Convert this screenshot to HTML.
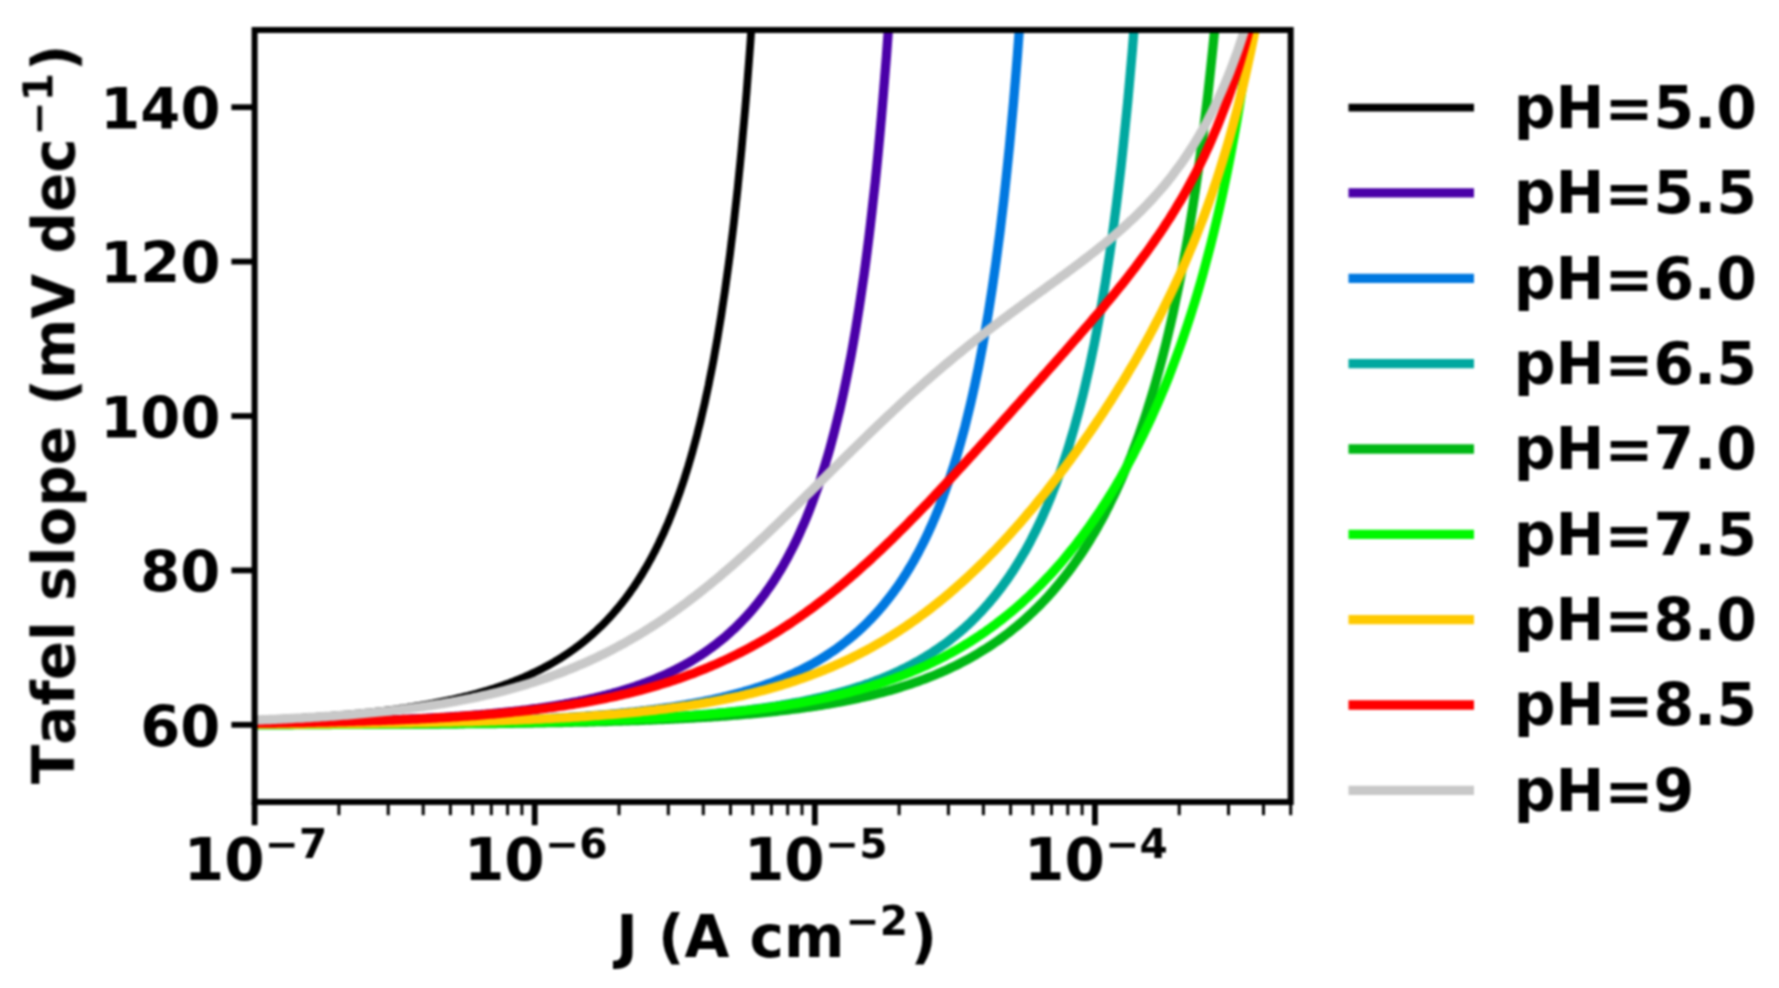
<!DOCTYPE html>
<html lang="en"><head><meta charset="utf-8"><title>Tafel slope vs J</title>
<style>html,body{margin:0;padding:0;background:#fff;overflow:hidden}svg{display:block}text{font-family:"DejaVu Sans","Liberation Sans",sans-serif;font-weight:bold;fill:#000;font-kerning:none}</style></head><body>
<svg width="1779" height="988" viewBox="0 0 1779 988">
<rect width="1779" height="988" fill="#fff"/>
<defs><filter id="soft" filterUnits="userSpaceOnUse" x="0" y="0" width="1779" height="988" color-interpolation-filters="sRGB"><feGaussianBlur stdDeviation="1.0"/></filter><clipPath id="ax"><rect x="254.60" y="30.00" width="1036.08" height="772.00"/></clipPath></defs>
<g filter="url(#soft)">
<g clip-path="url(#ax)" fill="none" stroke-linejoin="round">
<polyline points="249.0,720.2 250.3,720.2 251.5,720.1 252.8,720.1 254.1,720.0 255.3,720.0 256.6,719.9 257.9,719.9 259.2,719.8 260.4,719.8 261.7,719.7 263.0,719.7 264.2,719.6 265.5,719.6 266.8,719.5 268.0,719.5 269.3,719.4 270.6,719.3 271.8,719.3 273.1,719.2 274.4,719.2 275.7,719.1 276.9,719.1 278.2,719.0 279.5,718.9 280.7,718.9 282.0,718.8 283.3,718.7 284.5,718.7 285.8,718.6 287.1,718.5 288.3,718.5 289.6,718.4 290.9,718.3 292.2,718.3 293.4,718.2 294.7,718.1 296.0,718.1 297.2,718.0 298.5,717.9 299.8,717.8 301.0,717.8 302.3,717.7 303.6,717.6 304.8,717.5 306.1,717.5 307.4,717.4 308.7,717.3 309.9,717.2 311.2,717.2 312.5,717.1 313.7,717.0 315.0,716.9 316.3,716.8 317.5,716.7 318.8,716.7 320.1,716.6 321.3,716.5 322.6,716.4 323.9,716.3 325.2,716.2 326.4,716.1 327.7,716.0 329.0,715.9 330.2,715.8 331.5,715.7 332.8,715.6 334.0,715.5 335.3,715.4 336.6,715.3 337.8,715.2 339.1,715.1 340.4,715.0 341.7,714.9 342.9,714.8 344.2,714.7 345.5,714.6 346.7,714.5 348.0,714.4 349.3,714.3 350.5,714.2 351.8,714.1 353.1,713.9 354.3,713.8 355.6,713.7 356.9,713.6 358.2,713.5 359.4,713.3 360.7,713.2 362.0,713.1 363.2,713.0 364.5,712.8 365.8,712.7 367.0,712.6 368.3,712.5 369.6,712.3 370.8,712.2 372.1,712.0 373.4,711.9 374.7,711.8 375.9,711.6 377.2,711.5 378.5,711.3 379.7,711.2 381.0,711.1 382.3,710.9 383.5,710.8 384.8,710.6 386.1,710.5 387.3,710.3 388.6,710.1 389.9,710.0 391.2,709.8 392.4,709.7 393.7,709.5 395.0,709.3 396.2,709.2 397.5,709.0 398.8,708.8 400.0,708.6 401.3,708.5 402.6,708.3 403.8,708.1 405.1,707.9 406.4,707.8 407.7,707.6 408.9,707.4 410.2,707.2 411.5,707.0 412.7,706.8 414.0,706.6 415.3,706.4 416.5,706.2 417.8,706.0 419.1,705.8 420.4,705.6 421.6,705.4 422.9,705.2 424.2,705.0 425.4,704.7 426.7,704.5 428.0,704.3 429.2,704.1 430.5,703.8 431.8,703.6 433.0,703.4 434.3,703.1 435.6,702.9 436.9,702.7 438.1,702.4 439.4,702.2 440.7,701.9 441.9,701.7 443.2,701.4 444.5,701.2 445.7,700.9 447.0,700.6 448.3,700.4 449.5,700.1 450.8,699.8 452.1,699.6 453.4,699.3 454.6,699.0 455.9,698.7 457.2,698.4 458.4,698.1 459.7,697.8 461.0,697.5 462.2,697.2 463.5,696.9 464.8,696.6 466.0,696.3 467.3,696.0 468.6,695.7 469.9,695.3 471.1,695.0 472.4,694.7 473.7,694.3 474.9,694.0 476.2,693.7 477.5,693.3 478.7,693.0 480.0,692.6 481.3,692.2 482.5,691.9 483.8,691.5 485.1,691.1 486.4,690.8 487.6,690.4 488.9,690.0 490.2,689.6 491.4,689.2 492.7,688.8 494.0,688.4 495.2,688.0 496.5,687.6 497.8,687.1 499.0,686.7 500.3,686.3 501.6,685.8 502.9,685.4 504.1,684.9 505.4,684.5 506.7,684.0 507.9,683.6 509.2,683.1 510.5,682.6 511.7,682.1 513.0,681.7 514.3,681.2 515.5,680.7 516.8,680.2 518.1,679.6 519.4,679.1 520.6,678.6 521.9,678.1 523.2,677.5 524.4,677.0 525.7,676.4 527.0,675.9 528.2,675.3 529.5,674.7 530.8,674.1 532.0,673.5 533.3,673.0 534.6,672.3 535.9,671.7 537.1,671.1 538.4,670.5 539.7,669.9 540.9,669.2 542.2,668.6 543.5,667.9 544.7,667.2 546.0,666.5 547.3,665.9 548.5,665.2 549.8,664.5 551.1,663.7 552.4,663.0 553.6,662.3 554.9,661.5 556.2,660.8 557.4,660.0 558.7,659.2 560.0,658.5 561.2,657.7 562.5,656.9 563.8,656.0 565.0,655.2 566.3,654.4 567.6,653.5 568.9,652.7 570.1,651.8 571.4,650.9 572.7,650.0 573.9,649.1 575.2,648.2 576.5,647.2 577.7,646.3 579.0,645.3 580.3,644.4 581.5,643.4 582.8,642.4 584.1,641.3 585.4,640.3 586.6,639.3 587.9,638.2 589.2,637.1 590.4,636.0 591.7,634.9 593.0,633.8 594.2,632.7 595.5,631.5 596.8,630.3 598.0,629.1 599.3,627.9 600.6,626.7 601.9,625.4 603.1,624.2 604.4,622.9 605.7,621.6 606.9,620.3 608.2,618.9 609.5,617.6 610.7,616.2 612.0,614.8 613.3,613.4 614.5,611.9 615.8,610.4 617.1,608.9 618.4,607.4 619.6,605.9 620.9,604.3 622.2,602.7 623.4,601.1 624.7,599.5 626.0,597.8 627.2,596.1 628.5,594.4 629.8,592.6 631.0,590.8 632.3,589.0 633.6,587.2 634.9,585.3 636.1,583.4 637.4,581.5 638.7,579.5 639.9,577.5 641.2,575.5 642.5,573.4 643.7,571.3 645.0,569.1 646.3,567.0 647.6,564.7 648.8,562.5 650.1,560.2 651.4,557.8 652.6,555.5 653.9,553.0 655.2,550.6 656.4,548.1 657.7,545.5 659.0,542.9 660.2,540.2 661.5,537.5 662.8,534.8 664.1,532.0 665.3,529.1 666.6,526.2 667.9,523.2 669.1,520.2 670.4,517.1 671.7,513.9 672.9,510.7 674.2,507.4 675.5,504.0 676.7,500.6 678.0,497.1 679.3,493.6 680.6,489.9 681.8,486.2 683.1,482.4 684.4,478.5 685.6,474.6 686.9,470.5 688.2,466.4 689.4,462.2 690.7,457.8 692.0,453.4 693.2,448.9 694.5,444.3 695.8,439.5 697.1,434.7 698.3,429.7 699.6,424.7 700.9,419.5 702.1,414.1 703.4,408.7 704.7,403.1 705.9,397.4 707.2,391.5 708.5,385.5 709.7,379.3 711.0,372.9 712.3,366.4 713.6,359.7 714.8,352.9 716.1,345.8 717.4,338.5 718.6,331.1 719.9,323.4 721.2,315.5 722.4,307.4 723.7,299.0 725.0,290.4 726.2,281.6 727.5,272.4 728.8,263.0 730.1,253.3 731.3,243.2 732.6,232.9 733.9,222.2 735.1,211.1 736.4,199.7 737.7,187.8 738.9,175.6 740.2,162.9 741.5,149.7 742.7,136.1 744.0,122.0 745.3,107.3 746.6,92.0 747.8,76.2 749.1,59.7 750.4,42.5 751.6,24.6 752.9,6.0 754.2,-13.5 755.4,-33.8" stroke="#000000" stroke-width="7.8"/>
<polyline points="249.0,723.3 250.6,723.3 252.2,723.3 253.8,723.2 255.5,723.2 257.1,723.2 258.7,723.2 260.3,723.2 261.9,723.1 263.5,723.1 265.1,723.1 266.8,723.1 268.4,723.0 270.0,723.0 271.6,723.0 273.2,723.0 274.8,723.0 276.4,722.9 278.0,722.9 279.7,722.9 281.3,722.9 282.9,722.8 284.5,722.8 286.1,722.8 287.7,722.7 289.3,722.7 291.0,722.7 292.6,722.7 294.2,722.6 295.8,722.6 297.4,722.6 299.0,722.5 300.6,722.5 302.3,722.5 303.9,722.5 305.5,722.4 307.1,722.4 308.7,722.4 310.3,722.3 311.9,722.3 313.6,722.3 315.2,722.2 316.8,722.2 318.4,722.2 320.0,722.1 321.6,722.1 323.2,722.0 324.8,722.0 326.5,722.0 328.1,721.9 329.7,721.9 331.3,721.9 332.9,721.8 334.5,721.8 336.1,721.7 337.8,721.7 339.4,721.7 341.0,721.6 342.6,721.6 344.2,721.5 345.8,721.5 347.4,721.4 349.1,721.4 350.7,721.3 352.3,721.3 353.9,721.2 355.5,721.2 357.1,721.2 358.7,721.1 360.4,721.1 362.0,721.0 363.6,721.0 365.2,720.9 366.8,720.8 368.4,720.8 370.0,720.7 371.6,720.7 373.3,720.6 374.9,720.6 376.5,720.5 378.1,720.5 379.7,720.4 381.3,720.3 382.9,720.3 384.6,720.2 386.2,720.2 387.8,720.1 389.4,720.0 391.0,720.0 392.6,719.9 394.2,719.8 395.9,719.8 397.5,719.7 399.1,719.6 400.7,719.6 402.3,719.5 403.9,719.4 405.5,719.3 407.2,719.3 408.8,719.2 410.4,719.1 412.0,719.0 413.6,719.0 415.2,718.9 416.8,718.8 418.4,718.7 420.1,718.6 421.7,718.6 423.3,718.5 424.9,718.4 426.5,718.3 428.1,718.2 429.7,718.1 431.4,718.0 433.0,718.0 434.6,717.9 436.2,717.8 437.8,717.7 439.4,717.6 441.0,717.5 442.7,717.4 444.3,717.3 445.9,717.2 447.5,717.1 449.1,717.0 450.7,716.9 452.3,716.7 454.0,716.6 455.6,716.5 457.2,716.4 458.8,716.3 460.4,716.2 462.0,716.1 463.6,716.0 465.2,715.8 466.9,715.7 468.5,715.6 470.1,715.5 471.7,715.3 473.3,715.2 474.9,715.1 476.5,714.9 478.2,714.8 479.8,714.7 481.4,714.5 483.0,714.4 484.6,714.3 486.2,714.1 487.8,714.0 489.5,713.8 491.1,713.7 492.7,713.5 494.3,713.4 495.9,713.2 497.5,713.0 499.1,712.9 500.8,712.7 502.4,712.6 504.0,712.4 505.6,712.2 507.2,712.0 508.8,711.9 510.4,711.7 512.1,711.5 513.7,711.3 515.3,711.1 516.9,711.0 518.5,710.8 520.1,710.6 521.7,710.4 523.3,710.2 525.0,710.0 526.6,709.8 528.2,709.6 529.8,709.4 531.4,709.1 533.0,708.9 534.6,708.7 536.3,708.5 537.9,708.3 539.5,708.0 541.1,707.8 542.7,707.6 544.3,707.3 545.9,707.1 547.6,706.8 549.2,706.6 550.8,706.3 552.4,706.1 554.0,705.8 555.6,705.6 557.2,705.3 558.9,705.0 560.5,704.7 562.1,704.5 563.7,704.2 565.3,703.9 566.9,703.6 568.5,703.3 570.1,703.0 571.8,702.7 573.4,702.4 575.0,702.1 576.6,701.8 578.2,701.5 579.8,701.1 581.4,700.8 583.1,700.5 584.7,700.1 586.3,699.8 587.9,699.4 589.5,699.1 591.1,698.7 592.7,698.3 594.4,698.0 596.0,697.6 597.6,697.2 599.2,696.8 600.8,696.4 602.4,696.0 604.0,695.6 605.7,695.2 607.3,694.8 608.9,694.3 610.5,693.9 612.1,693.5 613.7,693.0 615.3,692.6 616.9,692.1 618.6,691.6 620.2,691.2 621.8,690.7 623.4,690.2 625.0,689.7 626.6,689.2 628.2,688.7 629.9,688.2 631.5,687.7 633.1,687.1 634.7,686.6 636.3,686.0 637.9,685.5 639.5,684.9 641.2,684.3 642.8,683.7 644.4,683.1 646.0,682.5 647.6,681.9 649.2,681.3 650.8,680.7 652.5,680.0 654.1,679.4 655.7,678.7 657.3,678.0 658.9,677.3 660.5,676.7 662.1,675.9 663.7,675.2 665.4,674.5 667.0,673.8 668.6,673.0 670.2,672.2 671.8,671.5 673.4,670.7 675.0,669.9 676.7,669.0 678.3,668.2 679.9,667.4 681.5,666.5 683.1,665.6 684.7,664.8 686.3,663.9 688.0,662.9 689.6,662.0 691.2,661.1 692.8,660.1 694.4,659.1 696.0,658.1 697.6,657.1 699.3,656.1 700.9,655.0 702.5,654.0 704.1,652.9 705.7,651.8 707.3,650.6 708.9,649.5 710.6,648.3 712.2,647.2 713.8,645.9 715.4,644.7 717.0,643.5 718.6,642.2 720.2,640.9 721.8,639.6 723.5,638.3 725.1,636.9 726.7,635.5 728.3,634.1 729.9,632.7 731.5,631.2 733.1,629.7 734.8,628.2 736.4,626.6 738.0,625.0 739.6,623.4 741.2,621.8 742.8,620.1 744.4,618.4 746.1,616.7 747.7,614.9 749.3,613.1 750.9,611.3 752.5,609.4 754.1,607.5 755.7,605.5 757.4,603.5 759.0,601.5 760.6,599.4 762.2,597.3 763.8,595.2 765.4,593.0 767.0,590.7 768.6,588.4 770.3,586.1 771.9,583.7 773.5,581.3 775.1,578.8 776.7,576.2 778.3,573.6 779.9,571.0 781.6,568.3 783.2,565.5 784.8,562.6 786.4,559.7 788.0,556.8 789.6,553.7 791.2,550.6 792.9,547.4 794.5,544.2 796.1,540.9 797.7,537.5 799.3,534.0 800.9,530.4 802.5,526.7 804.2,523.0 805.8,519.2 807.4,515.2 809.0,511.2 810.6,507.1 812.2,502.8 813.8,498.5 815.4,494.0 817.1,489.4 818.7,484.7 820.3,479.9 821.9,474.9 823.5,469.8 825.1,464.6 826.7,459.2 828.4,453.6 830.0,447.9 831.6,442.1 833.2,436.0 834.8,429.8 836.4,423.4 838.0,416.8 839.7,410.0 841.3,403.0 842.9,395.7 844.5,388.2 846.1,380.5 847.7,372.6 849.3,364.3 851.0,355.8 852.6,347.0 854.2,337.9 855.8,328.4 857.4,318.6 859.0,308.5 860.6,298.0 862.2,287.1 863.9,275.7 865.5,264.0 867.1,251.7 868.7,239.0 870.3,225.7 871.9,211.9 873.5,197.5 875.2,182.4 876.8,166.7 878.4,150.2 880.0,133.0 881.6,115.0 883.2,96.1 884.8,76.3 886.5,55.4 888.1,33.4 889.7,10.3 891.3,-14.1 892.9,-39.9" stroke="#4a00a8" stroke-width="9.3"/>
<polyline points="249.0,724.3 250.9,724.3 252.9,724.2 254.8,724.2 256.8,724.2 258.7,724.2 260.7,724.2 262.6,724.2 264.6,724.2 266.5,724.2 268.5,724.2 270.4,724.2 272.3,724.2 274.3,724.1 276.2,724.1 278.2,724.1 280.1,724.1 282.1,724.1 284.0,724.1 286.0,724.1 287.9,724.1 289.8,724.1 291.8,724.0 293.7,724.0 295.7,724.0 297.6,724.0 299.6,724.0 301.5,724.0 303.5,724.0 305.4,723.9 307.4,723.9 309.3,723.9 311.2,723.9 313.2,723.9 315.1,723.9 317.1,723.9 319.0,723.8 321.0,723.8 322.9,723.8 324.9,723.8 326.8,723.8 328.8,723.8 330.7,723.8 332.6,723.7 334.6,723.7 336.5,723.7 338.5,723.7 340.4,723.7 342.4,723.6 344.3,723.6 346.3,723.6 348.2,723.6 350.2,723.6 352.1,723.5 354.0,723.5 356.0,723.5 357.9,723.5 359.9,723.5 361.8,723.4 363.8,723.4 365.7,723.4 367.7,723.4 369.6,723.4 371.5,723.3 373.5,723.3 375.4,723.3 377.4,723.3 379.3,723.2 381.3,723.2 383.2,723.2 385.2,723.2 387.1,723.1 389.1,723.1 391.0,723.1 392.9,723.0 394.9,723.0 396.8,723.0 398.8,723.0 400.7,722.9 402.7,722.9 404.6,722.9 406.6,722.8 408.5,722.8 410.5,722.8 412.4,722.7 414.3,722.7 416.3,722.7 418.2,722.6 420.2,722.6 422.1,722.6 424.1,722.5 426.0,722.5 428.0,722.5 429.9,722.4 431.9,722.4 433.8,722.3 435.7,722.3 437.7,722.3 439.6,722.2 441.6,722.2 443.5,722.1 445.5,722.1 447.4,722.1 449.4,722.0 451.3,722.0 453.2,721.9 455.2,721.9 457.1,721.8 459.1,721.8 461.0,721.7 463.0,721.7 464.9,721.6 466.9,721.6 468.8,721.5 470.8,721.5 472.7,721.4 474.6,721.4 476.6,721.3 478.5,721.2 480.5,721.2 482.4,721.1 484.4,721.1 486.3,721.0 488.3,720.9 490.2,720.9 492.2,720.8 494.1,720.8 496.0,720.7 498.0,720.6 499.9,720.6 501.9,720.5 503.8,720.4 505.8,720.3 507.7,720.3 509.7,720.2 511.6,720.1 513.6,720.1 515.5,720.0 517.4,719.9 519.4,719.8 521.3,719.7 523.3,719.7 525.2,719.6 527.2,719.5 529.1,719.4 531.1,719.3 533.0,719.2 535.0,719.1 536.9,719.0 538.8,718.9 540.8,718.8 542.7,718.7 544.7,718.7 546.6,718.5 548.6,718.4 550.5,718.3 552.5,718.2 554.4,718.1 556.3,718.0 558.3,717.9 560.2,717.8 562.2,717.7 564.1,717.6 566.1,717.5 568.0,717.3 570.0,717.2 571.9,717.1 573.9,717.0 575.8,716.8 577.7,716.7 579.7,716.6 581.6,716.4 583.6,716.3 585.5,716.2 587.5,716.0 589.4,715.9 591.4,715.7 593.3,715.6 595.3,715.4 597.2,715.3 599.1,715.1 601.1,715.0 603.0,714.8 605.0,714.6 606.9,714.5 608.9,714.3 610.8,714.1 612.8,713.9 614.7,713.8 616.7,713.6 618.6,713.4 620.5,713.2 622.5,713.0 624.4,712.8 626.4,712.6 628.3,712.4 630.3,712.2 632.2,712.0 634.2,711.8 636.1,711.6 638.0,711.4 640.0,711.2 641.9,710.9 643.9,710.7 645.8,710.5 647.8,710.2 649.7,710.0 651.7,709.7 653.6,709.5 655.6,709.2 657.5,709.0 659.4,708.7 661.4,708.5 663.3,708.2 665.3,707.9 667.2,707.6 669.2,707.3 671.1,707.1 673.1,706.8 675.0,706.5 677.0,706.2 678.9,705.8 680.8,705.5 682.8,705.2 684.7,704.9 686.7,704.5 688.6,704.2 690.6,703.9 692.5,703.5 694.5,703.2 696.4,702.8 698.4,702.4 700.3,702.1 702.2,701.7 704.2,701.3 706.1,700.9 708.1,700.5 710.0,700.1 712.0,699.7 713.9,699.2 715.9,698.8 717.8,698.4 719.7,697.9 721.7,697.5 723.6,697.0 725.6,696.5 727.5,696.1 729.5,695.6 731.4,695.1 733.4,694.6 735.3,694.0 737.3,693.5 739.2,693.0 741.1,692.4 743.1,691.9 745.0,691.3 747.0,690.8 748.9,690.2 750.9,689.6 752.8,689.0 754.8,688.4 756.7,687.7 758.7,687.1 760.6,686.5 762.5,685.8 764.5,685.1 766.4,684.4 768.4,683.7 770.3,683.0 772.3,682.3 774.2,681.6 776.2,680.8 778.1,680.0 780.1,679.3 782.0,678.5 783.9,677.7 785.9,676.8 787.8,676.0 789.8,675.1 791.7,674.3 793.7,673.4 795.6,672.5 797.6,671.5 799.5,670.6 801.5,669.6 803.4,668.7 805.3,667.7 807.3,666.6 809.2,665.6 811.2,664.5 813.1,663.5 815.1,662.4 817.0,661.2 819.0,660.1 820.9,658.9 822.8,657.7 824.8,656.5 826.7,655.3 828.7,654.0 830.6,652.7 832.6,651.4 834.5,650.1 836.5,648.7 838.4,647.3 840.4,645.9 842.3,644.4 844.2,642.9 846.2,641.4 848.1,639.8 850.1,638.3 852.0,636.6 854.0,635.0 855.9,633.3 857.9,631.6 859.8,629.8 861.8,628.0 863.7,626.2 865.6,624.3 867.6,622.4 869.5,620.4 871.5,618.4 873.4,616.3 875.4,614.2 877.3,612.1 879.3,609.9 881.2,607.6 883.2,605.3 885.1,602.9 887.0,600.5 889.0,598.1 890.9,595.5 892.9,592.9 894.8,590.3 896.8,587.6 898.7,584.8 900.7,581.9 902.6,579.0 904.5,576.0 906.5,572.9 908.4,569.8 910.4,566.5 912.3,563.2 914.3,559.8 916.2,556.3 918.2,552.7 920.1,549.0 922.1,545.2 924.0,541.4 925.9,537.4 927.9,533.3 929.8,529.0 931.8,524.7 933.7,520.2 935.7,515.6 937.6,510.9 939.6,506.0 941.5,501.0 943.5,495.8 945.4,490.5 947.3,485.0 949.3,479.4 951.2,473.5 953.2,467.5 955.1,461.3 957.1,454.8 959.0,448.2 961.0,441.3 962.9,434.2 964.9,426.9 966.8,419.2 968.7,411.4 970.7,403.2 972.6,394.7 974.6,385.9 976.5,376.8 978.5,367.3 980.4,357.4 982.4,347.2 984.3,336.5 986.2,325.4 988.2,313.8 990.1,301.7 992.1,289.1 994.0,276.0 996.0,262.2 997.9,247.7 999.9,232.6 1001.8,216.8 1003.8,200.1 1005.7,182.6 1007.6,164.2 1009.6,144.8 1011.5,124.3 1013.5,102.7 1015.4,79.8 1017.4,55.5 1019.3,29.8 1021.3,2.4 1023.2,-26.8 1025.2,-58.0" stroke="#0078e0" stroke-width="9.3"/>
<polyline points="249.0,724.6 251.2,724.6 253.5,724.5 255.7,724.5 258.0,724.5 260.2,724.5 262.4,724.5 264.7,724.5 266.9,724.5 269.2,724.5 271.4,724.5 273.7,724.5 275.9,724.5 278.1,724.5 280.4,724.5 282.6,724.5 284.9,724.5 287.1,724.5 289.3,724.5 291.6,724.5 293.8,724.4 296.1,724.4 298.3,724.4 300.6,724.4 302.8,724.4 305.0,724.4 307.3,724.4 309.5,724.4 311.8,724.4 314.0,724.4 316.2,724.4 318.5,724.4 320.7,724.4 323.0,724.4 325.2,724.3 327.5,724.3 329.7,724.3 331.9,724.3 334.2,724.3 336.4,724.3 338.7,724.3 340.9,724.3 343.1,724.3 345.4,724.3 347.6,724.3 349.9,724.2 352.1,724.2 354.4,724.2 356.6,724.2 358.8,724.2 361.1,724.2 363.3,724.2 365.6,724.2 367.8,724.2 370.0,724.1 372.3,724.1 374.5,724.1 376.8,724.1 379.0,724.1 381.2,724.1 383.5,724.1 385.7,724.1 388.0,724.0 390.2,724.0 392.5,724.0 394.7,724.0 396.9,724.0 399.2,724.0 401.4,724.0 403.7,723.9 405.9,723.9 408.1,723.9 410.4,723.9 412.6,723.9 414.9,723.9 417.1,723.8 419.4,723.8 421.6,723.8 423.8,723.8 426.1,723.8 428.3,723.7 430.6,723.7 432.8,723.7 435.0,723.7 437.3,723.7 439.5,723.6 441.8,723.6 444.0,723.6 446.3,723.6 448.5,723.5 450.7,723.5 453.0,723.5 455.2,723.5 457.5,723.5 459.7,723.4 461.9,723.4 464.2,723.4 466.4,723.3 468.7,723.3 470.9,723.3 473.2,723.3 475.4,723.2 477.6,723.2 479.9,723.2 482.1,723.1 484.4,723.1 486.6,723.1 488.8,723.1 491.1,723.0 493.3,723.0 495.6,723.0 497.8,722.9 500.1,722.9 502.3,722.9 504.5,722.8 506.8,722.8 509.0,722.7 511.3,722.7 513.5,722.7 515.7,722.6 518.0,722.6 520.2,722.5 522.5,722.5 524.7,722.5 526.9,722.4 529.2,722.4 531.4,722.3 533.7,722.3 535.9,722.2 538.2,722.2 540.4,722.1 542.6,722.1 544.9,722.0 547.1,722.0 549.4,721.9 551.6,721.9 553.8,721.8 556.1,721.8 558.3,721.7 560.6,721.6 562.8,721.6 565.1,721.5 567.3,721.5 569.5,721.4 571.8,721.3 574.0,721.3 576.3,721.2 578.5,721.1 580.7,721.1 583.0,721.0 585.2,720.9 587.5,720.9 589.7,720.8 592.0,720.7 594.2,720.6 596.4,720.6 598.7,720.5 600.9,720.4 603.2,720.3 605.4,720.2 607.6,720.2 609.9,720.1 612.1,720.0 614.4,719.9 616.6,719.8 618.9,719.7 621.1,719.6 623.3,719.5 625.6,719.4 627.8,719.3 630.1,719.2 632.3,719.1 634.5,719.0 636.8,718.9 639.0,718.8 641.3,718.7 643.5,718.5 645.8,718.4 648.0,718.3 650.2,718.2 652.5,718.1 654.7,717.9 657.0,717.8 659.2,717.7 661.4,717.5 663.7,717.4 665.9,717.3 668.2,717.1 670.4,717.0 672.6,716.8 674.9,716.7 677.1,716.5 679.4,716.4 681.6,716.2 683.9,716.1 686.1,715.9 688.3,715.7 690.6,715.6 692.8,715.4 695.1,715.2 697.3,715.0 699.5,714.9 701.8,714.7 704.0,714.5 706.3,714.3 708.5,714.1 710.8,713.9 713.0,713.7 715.2,713.5 717.5,713.2 719.7,713.0 722.0,712.8 724.2,712.6 726.4,712.4 728.7,712.1 730.9,711.9 733.2,711.6 735.4,711.4 737.7,711.1 739.9,710.9 742.1,710.6 744.4,710.3 746.6,710.1 748.9,709.8 751.1,709.5 753.3,709.2 755.6,708.9 757.8,708.6 760.1,708.3 762.3,708.0 764.6,707.7 766.8,707.4 769.0,707.0 771.3,706.7 773.5,706.3 775.8,706.0 778.0,705.6 780.2,705.3 782.5,704.9 784.7,704.5 787.0,704.1 789.2,703.7 791.5,703.3 793.7,702.9 795.9,702.5 798.2,702.1 800.4,701.7 802.7,701.2 804.9,700.8 807.1,700.3 809.4,699.8 811.6,699.4 813.9,698.9 816.1,698.4 818.4,697.9 820.6,697.4 822.8,696.8 825.1,696.3 827.3,695.7 829.6,695.2 831.8,694.6 834.0,694.0 836.3,693.4 838.5,692.8 840.8,692.2 843.0,691.6 845.2,690.9 847.5,690.3 849.7,689.6 852.0,688.9 854.2,688.2 856.5,687.5 858.7,686.8 860.9,686.1 863.2,685.3 865.4,684.5 867.7,683.8 869.9,683.0 872.1,682.1 874.4,681.3 876.6,680.4 878.9,679.6 881.1,678.7 883.4,677.8 885.6,676.9 887.8,675.9 890.1,675.0 892.3,674.0 894.6,673.0 896.8,671.9 899.0,670.9 901.3,669.8 903.5,668.7 905.8,667.6 908.0,666.5 910.3,665.3 912.5,664.1 914.7,662.9 917.0,661.7 919.2,660.4 921.5,659.1 923.7,657.8 925.9,656.4 928.2,655.1 930.4,653.6 932.7,652.2 934.9,650.7 937.2,649.2 939.4,647.7 941.6,646.1 943.9,644.5 946.1,642.9 948.4,641.2 950.6,639.5 952.8,637.7 955.1,635.9 957.3,634.0 959.6,632.2 961.8,630.2 964.1,628.3 966.3,626.2 968.5,624.2 970.8,622.1 973.0,619.9 975.3,617.7 977.5,615.4 979.7,613.1 982.0,610.7 984.2,608.2 986.5,605.7 988.7,603.2 990.9,600.5 993.2,597.9 995.4,595.1 997.7,592.3 999.9,589.4 1002.2,586.4 1004.4,583.3 1006.6,580.2 1008.9,577.0 1011.1,573.7 1013.4,570.3 1015.6,566.8 1017.8,563.2 1020.1,559.5 1022.3,555.7 1024.6,551.9 1026.8,547.9 1029.1,543.8 1031.3,539.5 1033.5,535.2 1035.8,530.7 1038.0,526.1 1040.3,521.4 1042.5,516.5 1044.7,511.4 1047.0,506.3 1049.2,500.9 1051.5,495.4 1053.7,489.7 1056.0,483.8 1058.2,477.7 1060.4,471.5 1062.7,465.0 1064.9,458.3 1067.2,451.3 1069.4,444.1 1071.6,436.7 1073.9,429.0 1076.1,421.0 1078.4,412.7 1080.6,404.1 1082.9,395.2 1085.1,385.9 1087.3,376.3 1089.6,366.2 1091.8,355.8 1094.1,344.9 1096.3,333.5 1098.5,321.6 1100.8,309.2 1103.0,296.3 1105.3,282.7 1107.5,268.5 1109.8,253.6 1112.0,238.0 1114.2,221.5 1116.5,204.2 1118.7,186.0 1121.0,166.7 1123.2,146.3 1125.4,124.8 1127.7,102.0 1129.9,77.7 1132.2,51.9 1134.4,24.3 1136.6,-5.1 1138.9,-36.6 1141.1,-70.5" stroke="#00a8a0" stroke-width="9.3"/>
<polyline points="249.0,724.6 251.5,724.6 253.9,724.6 256.4,724.6 258.9,724.6 261.3,724.6 263.8,724.6 266.3,724.6 268.7,724.6 271.2,724.6 273.6,724.6 276.1,724.6 278.6,724.6 281.0,724.6 283.5,724.6 286.0,724.6 288.4,724.6 290.9,724.6 293.4,724.5 295.8,724.5 298.3,724.5 300.8,724.5 303.2,724.5 305.7,724.5 308.2,724.5 310.6,724.5 313.1,724.5 315.6,724.5 318.0,724.5 320.5,724.5 322.9,724.5 325.4,724.5 327.9,724.5 330.3,724.5 332.8,724.4 335.3,724.4 337.7,724.4 340.2,724.4 342.7,724.4 345.1,724.4 347.6,724.4 350.1,724.4 352.5,724.4 355.0,724.4 357.5,724.4 359.9,724.4 362.4,724.4 364.9,724.3 367.3,724.3 369.8,724.3 372.2,724.3 374.7,724.3 377.2,724.3 379.6,724.3 382.1,724.3 384.6,724.3 387.0,724.2 389.5,724.2 392.0,724.2 394.4,724.2 396.9,724.2 399.4,724.2 401.8,724.2 404.3,724.2 406.8,724.2 409.2,724.1 411.7,724.1 414.2,724.1 416.6,724.1 419.1,724.1 421.5,724.1 424.0,724.1 426.5,724.0 428.9,724.0 431.4,724.0 433.9,724.0 436.3,724.0 438.8,724.0 441.3,723.9 443.7,723.9 446.2,723.9 448.7,723.9 451.1,723.9 453.6,723.8 456.1,723.8 458.5,723.8 461.0,723.8 463.5,723.8 465.9,723.7 468.4,723.7 470.8,723.7 473.3,723.7 475.8,723.7 478.2,723.6 480.7,723.6 483.2,723.6 485.6,723.6 488.1,723.5 490.6,723.5 493.0,723.5 495.5,723.5 498.0,723.4 500.4,723.4 502.9,723.4 505.4,723.3 507.8,723.3 510.3,723.3 512.8,723.3 515.2,723.2 517.7,723.2 520.1,723.2 522.6,723.1 525.1,723.1 527.5,723.1 530.0,723.0 532.5,723.0 534.9,722.9 537.4,722.9 539.9,722.9 542.3,722.8 544.8,722.8 547.3,722.7 549.7,722.7 552.2,722.7 554.7,722.6 557.1,722.6 559.6,722.5 562.1,722.5 564.5,722.4 567.0,722.4 569.4,722.3 571.9,722.3 574.4,722.2 576.8,722.2 579.3,722.1 581.8,722.1 584.2,722.0 586.7,722.0 589.2,721.9 591.6,721.8 594.1,721.8 596.6,721.7 599.0,721.7 601.5,721.6 604.0,721.5 606.4,721.5 608.9,721.4 611.4,721.3 613.8,721.2 616.3,721.2 618.7,721.1 621.2,721.0 623.7,720.9 626.1,720.9 628.6,720.8 631.1,720.7 633.5,720.6 636.0,720.5 638.5,720.5 640.9,720.4 643.4,720.3 645.9,720.2 648.3,720.1 650.8,720.0 653.3,719.9 655.7,719.8 658.2,719.7 660.7,719.6 663.1,719.5 665.6,719.4 668.0,719.3 670.5,719.1 673.0,719.0 675.4,718.9 677.9,718.8 680.4,718.7 682.8,718.5 685.3,718.4 687.8,718.3 690.2,718.1 692.7,718.0 695.2,717.9 697.6,717.7 700.1,717.6 702.6,717.4 705.0,717.3 707.5,717.1 710.0,717.0 712.4,716.8 714.9,716.7 717.3,716.5 719.8,716.3 722.3,716.1 724.7,716.0 727.2,715.8 729.7,715.6 732.1,715.4 734.6,715.2 737.1,715.0 739.5,714.8 742.0,714.6 744.5,714.4 746.9,714.2 749.4,714.0 751.9,713.8 754.3,713.5 756.8,713.3 759.3,713.1 761.7,712.8 764.2,712.6 766.6,712.3 769.1,712.1 771.6,711.8 774.0,711.5 776.5,711.3 779.0,711.0 781.4,710.7 783.9,710.4 786.4,710.1 788.8,709.8 791.3,709.5 793.8,709.2 796.2,708.9 798.7,708.6 801.2,708.2 803.6,707.9 806.1,707.5 808.6,707.2 811.0,706.8 813.5,706.5 815.9,706.1 818.4,705.7 820.9,705.3 823.3,704.9 825.8,704.5 828.3,704.1 830.7,703.7 833.2,703.2 835.7,702.8 838.1,702.3 840.6,701.9 843.1,701.4 845.5,700.9 848.0,700.4 850.5,699.9 852.9,699.4 855.4,698.9 857.9,698.4 860.3,697.8 862.8,697.3 865.2,696.7 867.7,696.1 870.2,695.6 872.6,695.0 875.1,694.3 877.6,693.7 880.0,693.1 882.5,692.4 885.0,691.8 887.4,691.1 889.9,690.4 892.4,689.7 894.8,689.0 897.3,688.2 899.8,687.5 902.2,686.7 904.7,685.9 907.2,685.1 909.6,684.3 912.1,683.5 914.5,682.6 917.0,681.8 919.5,680.9 921.9,680.0 924.4,679.1 926.9,678.1 929.3,677.2 931.8,676.2 934.3,675.2 936.7,674.2 939.2,673.1 941.7,672.1 944.1,671.0 946.6,669.9 949.1,668.7 951.5,667.6 954.0,666.4 956.5,665.2 958.9,664.0 961.4,662.7 963.8,661.4 966.3,660.1 968.8,658.8 971.2,657.4 973.7,656.0 976.2,654.6 978.6,653.1 981.1,651.6 983.6,650.1 986.0,648.6 988.5,647.0 991.0,645.4 993.4,643.7 995.9,642.0 998.4,640.3 1000.8,638.6 1003.3,636.8 1005.8,634.9 1008.2,633.1 1010.7,631.1 1013.1,629.2 1015.6,627.2 1018.1,625.1 1020.5,623.1 1023.0,620.9 1025.5,618.7 1027.9,616.5 1030.4,614.2 1032.9,611.9 1035.3,609.5 1037.8,607.1 1040.3,604.6 1042.7,602.1 1045.2,599.5 1047.7,596.8 1050.1,594.1 1052.6,591.3 1055.1,588.4 1057.5,585.5 1060.0,582.5 1062.4,579.5 1064.9,576.4 1067.4,573.2 1069.8,569.9 1072.3,566.6 1074.8,563.1 1077.2,559.6 1079.7,556.0 1082.2,552.3 1084.6,548.6 1087.1,544.7 1089.6,540.7 1092.0,536.7 1094.5,532.5 1097.0,528.2 1099.4,523.8 1101.9,519.4 1104.4,514.7 1106.8,510.0 1109.3,505.1 1111.7,500.1 1114.2,495.0 1116.7,489.7 1119.1,484.3 1121.6,478.8 1124.1,473.0 1126.5,467.2 1129.0,461.1 1131.5,454.9 1133.9,448.4 1136.4,441.8 1138.9,435.0 1141.3,427.9 1143.8,420.7 1146.3,413.2 1148.7,405.5 1151.2,397.5 1153.7,389.2 1156.1,380.7 1158.6,371.8 1161.0,362.7 1163.5,353.2 1166.0,343.4 1168.4,333.2 1170.9,322.6 1173.4,311.6 1175.8,300.1 1178.3,288.2 1180.8,275.8 1183.2,262.9 1185.7,249.4 1188.2,235.2 1190.6,220.5 1193.1,205.0 1195.6,188.8 1198.0,171.8 1200.5,153.9 1203.0,135.0 1205.4,115.1 1207.9,94.1 1210.3,71.9 1212.8,48.4 1215.3,23.4 1217.7,-3.3 1220.2,-31.7 1222.7,-62.1" stroke="#00b814" stroke-width="9.3"/>
<polyline points="249.0,724.6 251.6,724.6 254.2,724.5 256.8,724.5 259.4,724.5 262.0,724.5 264.6,724.5 267.1,724.5 269.7,724.5 272.3,724.5 274.9,724.5 277.5,724.5 280.1,724.5 282.7,724.5 285.3,724.5 287.9,724.5 290.5,724.5 293.1,724.5 295.7,724.4 298.3,724.4 300.8,724.4 303.4,724.4 306.0,724.4 308.6,724.4 311.2,724.4 313.8,724.4 316.4,724.4 319.0,724.4 321.6,724.4 324.2,724.4 326.8,724.3 329.4,724.3 332.0,724.3 334.6,724.3 337.1,724.3 339.7,724.3 342.3,724.3 344.9,724.3 347.5,724.3 350.1,724.2 352.7,724.2 355.3,724.2 357.9,724.2 360.5,724.2 363.1,724.2 365.7,724.2 368.3,724.2 370.8,724.1 373.4,724.1 376.0,724.1 378.6,724.1 381.2,724.1 383.8,724.1 386.4,724.1 389.0,724.0 391.6,724.0 394.2,724.0 396.8,724.0 399.4,724.0 402.0,723.9 404.6,723.9 407.1,723.9 409.7,723.9 412.3,723.9 414.9,723.9 417.5,723.8 420.1,723.8 422.7,723.8 425.3,723.8 427.9,723.7 430.5,723.7 433.1,723.7 435.7,723.7 438.3,723.7 440.8,723.6 443.4,723.6 446.0,723.6 448.6,723.6 451.2,723.5 453.8,723.5 456.4,723.5 459.0,723.4 461.6,723.4 464.2,723.4 466.8,723.4 469.4,723.3 472.0,723.3 474.5,723.3 477.1,723.2 479.7,723.2 482.3,723.2 484.9,723.1 487.5,723.1 490.1,723.0 492.7,723.0 495.3,723.0 497.9,722.9 500.5,722.9 503.1,722.8 505.7,722.8 508.3,722.8 510.8,722.7 513.4,722.7 516.0,722.6 518.6,722.6 521.2,722.5 523.8,722.5 526.4,722.4 529.0,722.4 531.6,722.3 534.2,722.3 536.8,722.2 539.4,722.2 542.0,722.1 544.5,722.1 547.1,722.0 549.7,721.9 552.3,721.9 554.9,721.8 557.5,721.7 560.1,721.7 562.7,721.6 565.3,721.5 567.9,721.5 570.5,721.4 573.1,721.3 575.7,721.3 578.3,721.2 580.8,721.1 583.4,721.0 586.0,720.9 588.6,720.9 591.2,720.8 593.8,720.7 596.4,720.6 599.0,720.5 601.6,720.4 604.2,720.3 606.8,720.2 609.4,720.1 612.0,720.0 614.5,719.9 617.1,719.8 619.7,719.7 622.3,719.6 624.9,719.5 627.5,719.4 630.1,719.3 632.7,719.2 635.3,719.0 637.9,718.9 640.5,718.8 643.1,718.7 645.7,718.5 648.3,718.4 650.8,718.3 653.4,718.1 656.0,718.0 658.6,717.8 661.2,717.7 663.8,717.5 666.4,717.4 669.0,717.2 671.6,717.0 674.2,716.9 676.8,716.7 679.4,716.5 682.0,716.4 684.5,716.2 687.1,716.0 689.7,715.8 692.3,715.6 694.9,715.4 697.5,715.2 700.1,715.0 702.7,714.8 705.3,714.6 707.9,714.4 710.5,714.2 713.1,713.9 715.7,713.7 718.2,713.5 720.8,713.2 723.4,713.0 726.0,712.7 728.6,712.5 731.2,712.2 733.8,711.9 736.4,711.7 739.0,711.4 741.6,711.1 744.2,710.8 746.8,710.5 749.4,710.2 752.0,709.9 754.5,709.6 757.1,709.3 759.7,708.9 762.3,708.6 764.9,708.3 767.5,707.9 770.1,707.6 772.7,707.2 775.3,706.8 777.9,706.4 780.5,706.1 783.1,705.7 785.7,705.3 788.2,704.8 790.8,704.4 793.4,704.0 796.0,703.6 798.6,703.1 801.2,702.7 803.8,702.2 806.4,701.7 809.0,701.2 811.6,700.7 814.2,700.2 816.8,699.7 819.4,699.2 822.0,698.7 824.5,698.1 827.1,697.6 829.7,697.0 832.3,696.4 834.9,695.8 837.5,695.2 840.1,694.6 842.7,694.0 845.3,693.3 847.9,692.7 850.5,692.0 853.1,691.3 855.7,690.6 858.2,689.9 860.8,689.2 863.4,688.4 866.0,687.7 868.6,686.9 871.2,686.1 873.8,685.3 876.4,684.5 879.0,683.7 881.6,682.9 884.2,682.0 886.8,681.1 889.4,680.2 891.9,679.3 894.5,678.4 897.1,677.4 899.7,676.5 902.3,675.5 904.9,674.5 907.5,673.4 910.1,672.4 912.7,671.3 915.3,670.2 917.9,669.1 920.5,668.0 923.1,666.8 925.7,665.7 928.2,664.5 930.8,663.2 933.4,662.0 936.0,660.7 938.6,659.5 941.2,658.1 943.8,656.8 946.4,655.4 949.0,654.0 951.6,652.6 954.2,651.2 956.8,649.7 959.4,648.2 961.9,646.7 964.5,645.1 967.1,643.6 969.7,642.0 972.3,640.3 974.9,638.7 977.5,637.0 980.1,635.2 982.7,633.5 985.3,631.7 987.9,629.8 990.5,628.0 993.1,626.1 995.7,624.2 998.2,622.2 1000.8,620.2 1003.4,618.2 1006.0,616.1 1008.6,614.0 1011.2,611.9 1013.8,609.7 1016.4,607.5 1019.0,605.2 1021.6,602.9 1024.2,600.6 1026.8,598.2 1029.4,595.8 1031.9,593.3 1034.5,590.8 1037.1,588.2 1039.7,585.7 1042.3,583.0 1044.9,580.3 1047.5,577.6 1050.1,574.8 1052.7,572.0 1055.3,569.1 1057.9,566.2 1060.5,563.2 1063.1,560.2 1065.7,557.1 1068.2,554.0 1070.8,550.8 1073.4,547.6 1076.0,544.3 1078.6,540.9 1081.2,537.5 1083.8,534.0 1086.4,530.5 1089.0,526.9 1091.6,523.2 1094.2,519.5 1096.8,515.7 1099.4,511.9 1101.9,508.0 1104.5,504.0 1107.1,499.9 1109.7,495.8 1112.3,491.6 1114.9,487.3 1117.5,482.9 1120.1,478.5 1122.7,473.9 1125.3,469.3 1127.9,464.6 1130.5,459.8 1133.1,455.0 1135.6,450.0 1138.2,444.9 1140.8,439.7 1143.4,434.5 1146.0,429.1 1148.6,423.6 1151.2,418.0 1153.8,412.2 1156.4,406.4 1159.0,400.4 1161.6,394.3 1164.2,388.1 1166.8,381.7 1169.4,375.2 1171.9,368.5 1174.5,361.7 1177.1,354.6 1179.7,347.5 1182.3,340.1 1184.9,332.5 1187.5,324.8 1190.1,316.8 1192.7,308.7 1195.3,300.3 1197.9,291.6 1200.5,282.7 1203.1,273.5 1205.6,264.1 1208.2,254.3 1210.8,244.3 1213.4,233.9 1216.0,223.1 1218.6,212.0 1221.2,200.4 1223.8,188.5 1226.4,176.0 1229.0,163.1 1231.6,149.7 1234.2,135.7 1236.8,121.1 1239.4,105.8 1241.9,89.9 1244.5,73.2 1247.1,55.6 1249.7,37.2 1252.3,17.8 1254.9,-2.6 1257.5,-24.2 1260.1,-47.1 1262.7,-71.3" stroke="#00f800" stroke-width="9.3"/>
<polyline points="249.0,724.3 251.6,724.3 254.2,724.2 256.9,724.2 259.5,724.2 262.1,724.2 264.7,724.2 267.4,724.2 270.0,724.2 272.6,724.2 275.2,724.1 277.8,724.1 280.5,724.1 283.1,724.1 285.7,724.1 288.3,724.1 291.0,724.0 293.6,724.0 296.2,724.0 298.8,724.0 301.5,724.0 304.1,724.0 306.7,723.9 309.3,723.9 311.9,723.9 314.6,723.9 317.2,723.9 319.8,723.8 322.4,723.8 325.1,723.8 327.7,723.8 330.3,723.8 332.9,723.7 335.5,723.7 338.2,723.7 340.8,723.7 343.4,723.6 346.0,723.6 348.7,723.6 351.3,723.6 353.9,723.5 356.5,723.5 359.2,723.5 361.8,723.5 364.4,723.4 367.0,723.4 369.6,723.4 372.3,723.3 374.9,723.3 377.5,723.3 380.1,723.2 382.8,723.2 385.4,723.2 388.0,723.1 390.6,723.1 393.2,723.1 395.9,723.0 398.5,723.0 401.1,722.9 403.7,722.9 406.4,722.9 409.0,722.8 411.6,722.8 414.2,722.7 416.9,722.7 419.5,722.6 422.1,722.6 424.7,722.5 427.3,722.5 430.0,722.4 432.6,722.4 435.2,722.3 437.8,722.3 440.5,722.2 443.1,722.2 445.7,722.1 448.3,722.1 450.9,722.0 453.6,721.9 456.2,721.9 458.8,721.8 461.4,721.7 464.1,721.7 466.7,721.6 469.3,721.5 471.9,721.5 474.5,721.4 477.2,721.3 479.8,721.3 482.4,721.2 485.0,721.1 487.7,721.0 490.3,720.9 492.9,720.9 495.5,720.8 498.2,720.7 500.8,720.6 503.4,720.5 506.0,720.4 508.6,720.3 511.3,720.2 513.9,720.1 516.5,720.0 519.1,719.9 521.8,719.8 524.4,719.7 527.0,719.6 529.6,719.5 532.2,719.4 534.9,719.2 537.5,719.1 540.1,719.0 542.7,718.9 545.4,718.7 548.0,718.6 550.6,718.5 553.2,718.3 555.9,718.2 558.5,718.1 561.1,717.9 563.7,717.8 566.3,717.6 569.0,717.5 571.6,717.3 574.2,717.1 576.8,717.0 579.5,716.8 582.1,716.6 584.7,716.5 587.3,716.3 589.9,716.1 592.6,715.9 595.2,715.7 597.8,715.5 600.4,715.3 603.1,715.1 605.7,714.9 608.3,714.7 610.9,714.5 613.6,714.3 616.2,714.1 618.8,713.8 621.4,713.6 624.0,713.4 626.7,713.1 629.3,712.9 631.9,712.6 634.5,712.3 637.2,712.1 639.8,711.8 642.4,711.5 645.0,711.2 647.6,711.0 650.3,710.7 652.9,710.4 655.5,710.1 658.1,709.7 660.8,709.4 663.4,709.1 666.0,708.8 668.6,708.4 671.3,708.1 673.9,707.7 676.5,707.4 679.1,707.0 681.7,706.6 684.4,706.2 687.0,705.9 689.6,705.5 692.2,705.0 694.9,704.6 697.5,704.2 700.1,703.8 702.7,703.3 705.3,702.9 708.0,702.4 710.6,702.0 713.2,701.5 715.8,701.0 718.5,700.5 721.1,700.0 723.7,699.5 726.3,698.9 729.0,698.4 731.6,697.9 734.2,697.3 736.8,696.7 739.4,696.2 742.1,695.6 744.7,695.0 747.3,694.3 749.9,693.7 752.6,693.1 755.2,692.4 757.8,691.8 760.4,691.1 763.0,690.4 765.7,689.7 768.3,689.0 770.9,688.2 773.5,687.5 776.2,686.7 778.8,686.0 781.4,685.2 784.0,684.4 786.7,683.5 789.3,682.7 791.9,681.9 794.5,681.0 797.1,680.1 799.8,679.2 802.4,678.3 805.0,677.4 807.6,676.4 810.3,675.5 812.9,674.5 815.5,673.5 818.1,672.5 820.7,671.4 823.4,670.4 826.0,669.3 828.6,668.2 831.2,667.1 833.9,666.0 836.5,664.8 839.1,663.6 841.7,662.5 844.3,661.2 847.0,660.0 849.6,658.8 852.2,657.5 854.8,656.2 857.5,654.9 860.1,653.5 862.7,652.2 865.3,650.8 868.0,649.4 870.6,648.0 873.2,646.5 875.8,645.0 878.4,643.5 881.1,642.0 883.7,640.5 886.3,638.9 888.9,637.3 891.6,635.7 894.2,634.0 896.8,632.3 899.4,630.7 902.0,628.9 904.7,627.2 907.3,625.4 909.9,623.6 912.5,621.8 915.2,619.9 917.8,618.1 920.4,616.1 923.0,614.2 925.7,612.3 928.3,610.3 930.9,608.3 933.5,606.2 936.1,604.1 938.8,602.0 941.4,599.9 944.0,597.8 946.6,595.6 949.3,593.4 951.9,591.1 954.5,588.9 957.1,586.6 959.7,584.2 962.4,581.9 965.0,579.5 967.6,577.1 970.2,574.7 972.9,572.2 975.5,569.7 978.1,567.2 980.7,564.6 983.4,562.0 986.0,559.4 988.6,556.8 991.2,554.1 993.8,551.4 996.5,548.7 999.1,545.9 1001.7,543.1 1004.3,540.3 1007.0,537.5 1009.6,534.6 1012.2,531.7 1014.8,528.7 1017.4,525.8 1020.1,522.8 1022.7,519.8 1025.3,516.7 1027.9,513.6 1030.6,510.5 1033.2,507.4 1035.8,504.2 1038.4,501.0 1041.1,497.8 1043.7,494.6 1046.3,491.3 1048.9,488.0 1051.5,484.6 1054.2,481.2 1056.8,477.8 1059.4,474.4 1062.0,470.9 1064.7,467.5 1067.3,463.9 1069.9,460.4 1072.5,456.8 1075.1,453.2 1077.8,449.5 1080.4,445.9 1083.0,442.1 1085.6,438.4 1088.3,434.6 1090.9,430.8 1093.5,427.0 1096.1,423.1 1098.8,419.2 1101.4,415.2 1104.0,411.3 1106.6,407.2 1109.2,403.2 1111.9,399.1 1114.5,394.9 1117.1,390.8 1119.7,386.5 1122.4,382.3 1125.0,378.0 1127.6,373.6 1130.2,369.2 1132.8,364.8 1135.5,360.3 1138.1,355.7 1140.7,351.1 1143.3,346.5 1146.0,341.7 1148.6,337.0 1151.2,332.1 1153.8,327.2 1156.4,322.2 1159.1,317.2 1161.7,312.1 1164.3,306.9 1166.9,301.6 1169.6,296.2 1172.2,290.8 1174.8,285.2 1177.4,279.6 1180.1,273.9 1182.7,268.0 1185.3,262.1 1187.9,256.0 1190.5,249.8 1193.2,243.5 1195.8,237.0 1198.4,230.4 1201.0,223.6 1203.7,216.7 1206.3,209.6 1208.9,202.4 1211.5,194.9 1214.1,187.3 1216.8,179.4 1219.4,171.3 1222.0,163.0 1224.6,154.4 1227.3,145.6 1229.9,136.5 1232.5,127.0 1235.1,117.3 1237.8,107.2 1240.4,96.7 1243.0,85.8 1245.6,74.6 1248.2,62.8 1250.9,50.6 1253.5,37.9 1256.1,24.6 1258.7,10.6 1261.4,-3.9 1264.0,-19.2 1266.6,-35.2 1269.2,-52.1 1271.8,-69.9" stroke="#ffca00" stroke-width="9.3"/>
<polyline points="249.0,723.3 251.6,723.3 254.2,723.3 256.9,723.2 259.5,723.2 262.1,723.1 264.7,723.1 267.4,723.1 270.0,723.0 272.6,723.0 275.2,723.0 277.8,722.9 280.5,722.9 283.1,722.8 285.7,722.8 288.3,722.8 291.0,722.7 293.6,722.7 296.2,722.6 298.8,722.6 301.5,722.5 304.1,722.5 306.7,722.4 309.3,722.4 311.9,722.3 314.6,722.3 317.2,722.2 319.8,722.1 322.4,722.1 325.1,722.0 327.7,722.0 330.3,721.9 332.9,721.8 335.5,721.8 338.2,721.7 340.8,721.7 343.4,721.6 346.0,721.5 348.7,721.4 351.3,721.4 353.9,721.3 356.5,721.2 359.2,721.1 361.8,721.1 364.4,721.0 367.0,720.9 369.6,720.8 372.3,720.7 374.9,720.6 377.5,720.6 380.1,720.5 382.8,720.4 385.4,720.3 388.0,720.2 390.6,720.1 393.2,720.0 395.9,719.9 398.5,719.8 401.1,719.7 403.7,719.5 406.4,719.4 409.0,719.3 411.6,719.2 414.2,719.1 416.9,719.0 419.5,718.8 422.1,718.7 424.7,718.6 427.3,718.4 430.0,718.3 432.6,718.2 435.2,718.0 437.8,717.9 440.5,717.7 443.1,717.6 445.7,717.4 448.3,717.3 450.9,717.1 453.6,716.9 456.2,716.8 458.8,716.6 461.4,716.4 464.1,716.2 466.7,716.0 469.3,715.9 471.9,715.7 474.5,715.5 477.2,715.3 479.8,715.1 482.4,714.9 485.0,714.6 487.7,714.4 490.3,714.2 492.9,714.0 495.5,713.8 498.2,713.5 500.8,713.3 503.4,713.0 506.0,712.8 508.6,712.5 511.3,712.3 513.9,712.0 516.5,711.7 519.1,711.5 521.8,711.2 524.4,710.9 527.0,710.6 529.6,710.3 532.2,710.0 534.9,709.7 537.5,709.3 540.1,709.0 542.7,708.7 545.4,708.3 548.0,708.0 550.6,707.7 553.2,707.3 555.9,706.9 558.5,706.5 561.1,706.2 563.7,705.8 566.3,705.4 569.0,705.0 571.6,704.6 574.2,704.1 576.8,703.7 579.5,703.3 582.1,702.8 584.7,702.4 587.3,701.9 589.9,701.4 592.6,700.9 595.2,700.4 597.8,699.9 600.4,699.4 603.1,698.9 605.7,698.4 608.3,697.8 610.9,697.3 613.6,696.7 616.2,696.1 618.8,695.5 621.4,694.9 624.0,694.3 626.7,693.7 629.3,693.1 631.9,692.4 634.5,691.7 637.2,691.1 639.8,690.4 642.4,689.7 645.0,689.0 647.6,688.3 650.3,687.5 652.9,686.8 655.5,686.0 658.1,685.2 660.8,684.4 663.4,683.6 666.0,682.8 668.6,682.0 671.3,681.1 673.9,680.3 676.5,679.4 679.1,678.5 681.7,677.6 684.4,676.6 687.0,675.7 689.6,674.7 692.2,673.8 694.9,672.8 697.5,671.7 700.1,670.7 702.7,669.7 705.3,668.6 708.0,667.5 710.6,666.4 713.2,665.3 715.8,664.2 718.5,663.0 721.1,661.8 723.7,660.6 726.3,659.4 729.0,658.2 731.6,656.9 734.2,655.6 736.8,654.3 739.4,653.0 742.1,651.7 744.7,650.3 747.3,649.0 749.9,647.6 752.6,646.1 755.2,644.7 757.8,643.2 760.4,641.8 763.0,640.3 765.7,638.7 768.3,637.2 770.9,635.6 773.5,634.0 776.2,632.4 778.8,630.8 781.4,629.1 784.0,627.4 786.7,625.7 789.3,624.0 791.9,622.3 794.5,620.5 797.1,618.7 799.8,616.9 802.4,615.0 805.0,613.2 807.6,611.3 810.3,609.4 812.9,607.5 815.5,605.5 818.1,603.5 820.7,601.5 823.4,599.5 826.0,597.5 828.6,595.4 831.2,593.3 833.9,591.2 836.5,589.1 839.1,586.9 841.7,584.8 844.3,582.6 847.0,580.3 849.6,578.1 852.2,575.8 854.8,573.6 857.5,571.3 860.1,568.9 862.7,566.6 865.3,564.2 868.0,561.9 870.6,559.5 873.2,557.0 875.8,554.6 878.4,552.1 881.1,549.7 883.7,547.2 886.3,544.7 888.9,542.1 891.6,539.6 894.2,537.0 896.8,534.4 899.4,531.8 902.0,529.2 904.7,526.6 907.3,524.0 909.9,521.3 912.5,518.6 915.2,516.0 917.8,513.3 920.4,510.6 923.0,507.8 925.7,505.1 928.3,502.4 930.9,499.6 933.5,496.8 936.1,494.1 938.8,491.3 941.4,488.5 944.0,485.7 946.6,482.8 949.3,480.0 951.9,477.2 954.5,474.4 957.1,471.5 959.7,468.7 962.4,465.8 965.0,462.9 967.6,460.1 970.2,457.2 972.9,454.3 975.5,451.4 978.1,448.5 980.7,445.6 983.4,442.7 986.0,439.8 988.6,436.9 991.2,434.0 993.8,431.1 996.5,428.2 999.1,425.3 1001.7,422.3 1004.3,419.4 1007.0,416.5 1009.6,413.6 1012.2,410.6 1014.8,407.7 1017.4,404.8 1020.1,401.9 1022.7,398.9 1025.3,396.0 1027.9,393.1 1030.6,390.1 1033.2,387.2 1035.8,384.3 1038.4,381.3 1041.1,378.4 1043.7,375.4 1046.3,372.5 1048.9,369.5 1051.5,366.6 1054.2,363.6 1056.8,360.7 1059.4,357.7 1062.0,354.7 1064.7,351.8 1067.3,348.8 1069.9,345.8 1072.5,342.8 1075.1,339.8 1077.8,336.8 1080.4,333.8 1083.0,330.8 1085.6,327.8 1088.3,324.7 1090.9,321.7 1093.5,318.6 1096.1,315.6 1098.8,312.5 1101.4,309.4 1104.0,306.2 1106.6,303.1 1109.2,300.0 1111.9,296.8 1114.5,293.6 1117.1,290.4 1119.7,287.1 1122.4,283.9 1125.0,280.6 1127.6,277.2 1130.2,273.9 1132.8,270.5 1135.5,267.1 1138.1,263.6 1140.7,260.1 1143.3,256.6 1146.0,253.0 1148.6,249.4 1151.2,245.7 1153.8,242.0 1156.4,238.2 1159.1,234.4 1161.7,230.5 1164.3,226.6 1166.9,222.5 1169.6,218.5 1172.2,214.3 1174.8,210.1 1177.4,205.7 1180.1,201.3 1182.7,196.8 1185.3,192.2 1187.9,187.6 1190.5,182.8 1193.2,177.8 1195.8,172.8 1198.4,167.7 1201.0,162.4 1203.7,157.0 1206.3,151.4 1208.9,145.7 1211.5,139.8 1214.1,133.7 1216.8,127.5 1219.4,121.1 1222.0,114.4 1224.6,107.6 1227.3,100.5 1229.9,93.2 1232.5,85.6 1235.1,77.7 1237.8,69.6 1240.4,61.1 1243.0,52.3 1245.6,43.2 1248.2,33.6 1250.9,23.7 1253.5,13.4 1256.1,2.6 1258.7,-8.7 1261.4,-20.6 1264.0,-33.0 1266.6,-46.0 1269.2,-59.7 1271.8,-74.1" stroke="#ff0000" stroke-width="9.3"/>
<polyline points="249.0,720.3 251.6,720.2 254.2,720.1 256.9,720.0 259.5,719.9 262.1,719.8 264.7,719.7 267.4,719.6 270.0,719.5 272.6,719.4 275.2,719.3 277.8,719.1 280.5,719.0 283.1,718.9 285.7,718.8 288.3,718.6 291.0,718.5 293.6,718.4 296.2,718.2 298.8,718.1 301.5,718.0 304.1,717.8 306.7,717.7 309.3,717.5 311.9,717.3 314.6,717.2 317.2,717.0 319.8,716.9 322.4,716.7 325.1,716.5 327.7,716.3 330.3,716.2 332.9,716.0 335.5,715.8 338.2,715.6 340.8,715.4 343.4,715.2 346.0,715.0 348.7,714.8 351.3,714.6 353.9,714.3 356.5,714.1 359.2,713.9 361.8,713.7 364.4,713.4 367.0,713.2 369.6,712.9 372.3,712.7 374.9,712.4 377.5,712.2 380.1,711.9 382.8,711.6 385.4,711.3 388.0,711.1 390.6,710.8 393.2,710.5 395.9,710.2 398.5,709.9 401.1,709.6 403.7,709.2 406.4,708.9 409.0,708.6 411.6,708.2 414.2,707.9 416.9,707.5 419.5,707.2 422.1,706.8 424.7,706.4 427.3,706.0 430.0,705.6 432.6,705.2 435.2,704.8 437.8,704.4 440.5,704.0 443.1,703.6 445.7,703.1 448.3,702.7 450.9,702.2 453.6,701.7 456.2,701.3 458.8,700.8 461.4,700.3 464.1,699.8 466.7,699.2 469.3,698.7 471.9,698.2 474.5,697.6 477.2,697.1 479.8,696.5 482.4,695.9 485.0,695.3 487.7,694.7 490.3,694.1 492.9,693.5 495.5,692.9 498.2,692.2 500.8,691.6 503.4,690.9 506.0,690.2 508.6,689.5 511.3,688.8 513.9,688.1 516.5,687.3 519.1,686.6 521.8,685.8 524.4,685.0 527.0,684.2 529.6,683.4 532.2,682.6 534.9,681.8 537.5,680.9 540.1,680.1 542.7,679.2 545.4,678.3 548.0,677.4 550.6,676.5 553.2,675.5 555.9,674.5 558.5,673.6 561.1,672.6 563.7,671.6 566.3,670.5 569.0,669.5 571.6,668.4 574.2,667.4 576.8,666.3 579.5,665.1 582.1,664.0 584.7,662.9 587.3,661.7 589.9,660.5 592.6,659.3 595.2,658.1 597.8,656.8 600.4,655.5 603.1,654.3 605.7,653.0 608.3,651.6 610.9,650.3 613.6,648.9 616.2,647.5 618.8,646.1 621.4,644.7 624.0,643.3 626.7,641.8 629.3,640.3 631.9,638.8 634.5,637.3 637.2,635.7 639.8,634.2 642.4,632.6 645.0,631.0 647.6,629.3 650.3,627.7 652.9,626.0 655.5,624.3 658.1,622.6 660.8,620.8 663.4,619.1 666.0,617.3 668.6,615.5 671.3,613.7 673.9,611.8 676.5,609.9 679.1,608.1 681.7,606.1 684.4,604.2 687.0,602.3 689.6,600.3 692.2,598.3 694.9,596.3 697.5,594.2 700.1,592.2 702.7,590.1 705.3,588.0 708.0,585.9 710.6,583.8 713.2,581.6 715.8,579.5 718.5,577.3 721.1,575.1 723.7,572.8 726.3,570.6 729.0,568.3 731.6,566.1 734.2,563.8 736.8,561.5 739.4,559.1 742.1,556.8 744.7,554.4 747.3,552.1 749.9,549.7 752.6,547.3 755.2,544.9 757.8,542.4 760.4,540.0 763.0,537.6 765.7,535.1 768.3,532.6 770.9,530.1 773.5,527.6 776.2,525.1 778.8,522.6 781.4,520.1 784.0,517.5 786.7,515.0 789.3,512.4 791.9,509.9 794.5,507.3 797.1,504.8 799.8,502.2 802.4,499.6 805.0,497.0 807.6,494.4 810.3,491.8 812.9,489.2 815.5,486.6 818.1,484.0 820.7,481.4 823.4,478.8 826.0,476.2 828.6,473.6 831.2,471.0 833.9,468.4 836.5,465.8 839.1,463.2 841.7,460.6 844.3,458.0 847.0,455.4 849.6,452.9 852.2,450.3 854.8,447.7 857.5,445.1 860.1,442.6 862.7,440.0 865.3,437.5 868.0,434.9 870.6,432.4 873.2,429.9 875.8,427.4 878.4,424.9 881.1,422.4 883.7,419.9 886.3,417.4 888.9,414.9 891.6,412.5 894.2,410.0 896.8,407.6 899.4,405.1 902.0,402.7 904.7,400.3 907.3,397.9 909.9,395.6 912.5,393.2 915.2,390.8 917.8,388.5 920.4,386.2 923.0,383.8 925.7,381.5 928.3,379.2 930.9,377.0 933.5,374.7 936.1,372.5 938.8,370.2 941.4,368.0 944.0,365.8 946.6,363.6 949.3,361.4 951.9,359.2 954.5,357.0 957.1,354.9 959.7,352.8 962.4,350.6 965.0,348.5 967.6,346.4 970.2,344.3 972.9,342.3 975.5,340.2 978.1,338.1 980.7,336.1 983.4,334.1 986.0,332.0 988.6,330.0 991.2,328.0 993.8,326.0 996.5,324.1 999.1,322.1 1001.7,320.1 1004.3,318.2 1007.0,316.2 1009.6,314.3 1012.2,312.3 1014.8,310.4 1017.4,308.5 1020.1,306.6 1022.7,304.6 1025.3,302.7 1027.9,300.8 1030.6,298.9 1033.2,297.0 1035.8,295.1 1038.4,293.2 1041.1,291.3 1043.7,289.4 1046.3,287.5 1048.9,285.6 1051.5,283.7 1054.2,281.8 1056.8,279.9 1059.4,278.0 1062.0,276.1 1064.7,274.2 1067.3,272.2 1069.9,270.3 1072.5,268.4 1075.1,266.4 1077.8,264.4 1080.4,262.5 1083.0,260.5 1085.6,258.5 1088.3,256.5 1090.9,254.4 1093.5,252.4 1096.1,250.3 1098.8,248.2 1101.4,246.1 1104.0,244.0 1106.6,241.9 1109.2,239.7 1111.9,237.5 1114.5,235.3 1117.1,233.0 1119.7,230.7 1122.4,228.4 1125.0,226.0 1127.6,223.7 1130.2,221.2 1132.8,218.8 1135.5,216.3 1138.1,213.7 1140.7,211.1 1143.3,208.5 1146.0,205.8 1148.6,203.0 1151.2,200.3 1153.8,197.4 1156.4,194.5 1159.1,191.5 1161.7,188.5 1164.3,185.4 1166.9,182.2 1169.6,178.9 1172.2,175.6 1174.8,172.1 1177.4,168.6 1180.1,165.0 1182.7,161.3 1185.3,157.5 1187.9,153.6 1190.5,149.6 1193.2,145.5 1195.8,141.3 1198.4,136.9 1201.0,132.4 1203.7,127.7 1206.3,122.9 1208.9,118.0 1211.5,112.9 1214.1,107.6 1216.8,102.1 1219.4,96.4 1222.0,90.6 1224.6,84.5 1227.3,78.2 1229.9,71.7 1232.5,64.9 1235.1,57.8 1237.8,50.5 1240.4,42.8 1243.0,34.9 1245.6,26.5 1248.2,17.9 1250.9,8.8 1253.5,-0.6 1256.1,-10.5 1258.7,-20.9 1261.4,-31.8 1264.0,-43.2 1266.6,-55.1 1269.2,-67.8 1271.8,-81.0" stroke="#c8c8c8" stroke-width="9.3"/>
</g>
<g stroke="#000" fill="none">
<line x1="254.6" y1="802.0" x2="254.6" y2="825.2" stroke-width="5.8"/>
<line x1="534.7" y1="802.0" x2="534.7" y2="825.2" stroke-width="5.8"/>
<line x1="814.8" y1="802.0" x2="814.8" y2="825.2" stroke-width="5.8"/>
<line x1="1094.9" y1="802.0" x2="1094.9" y2="825.2" stroke-width="5.8"/>
<line x1="338.9" y1="802.0" x2="338.9" y2="815.2" stroke-width="3.0"/>
<line x1="388.2" y1="802.0" x2="388.2" y2="815.2" stroke-width="3.0"/>
<line x1="423.2" y1="802.0" x2="423.2" y2="815.2" stroke-width="3.0"/>
<line x1="450.4" y1="802.0" x2="450.4" y2="815.2" stroke-width="3.0"/>
<line x1="472.6" y1="802.0" x2="472.6" y2="815.2" stroke-width="3.0"/>
<line x1="491.3" y1="802.0" x2="491.3" y2="815.2" stroke-width="3.0"/>
<line x1="507.6" y1="802.0" x2="507.6" y2="815.2" stroke-width="3.0"/>
<line x1="521.9" y1="802.0" x2="521.9" y2="815.2" stroke-width="3.0"/>
<line x1="619.0" y1="802.0" x2="619.0" y2="815.2" stroke-width="3.0"/>
<line x1="668.3" y1="802.0" x2="668.3" y2="815.2" stroke-width="3.0"/>
<line x1="703.3" y1="802.0" x2="703.3" y2="815.2" stroke-width="3.0"/>
<line x1="730.5" y1="802.0" x2="730.5" y2="815.2" stroke-width="3.0"/>
<line x1="752.7" y1="802.0" x2="752.7" y2="815.2" stroke-width="3.0"/>
<line x1="771.4" y1="802.0" x2="771.4" y2="815.2" stroke-width="3.0"/>
<line x1="787.7" y1="802.0" x2="787.7" y2="815.2" stroke-width="3.0"/>
<line x1="802.0" y1="802.0" x2="802.0" y2="815.2" stroke-width="3.0"/>
<line x1="899.1" y1="802.0" x2="899.1" y2="815.2" stroke-width="3.0"/>
<line x1="948.4" y1="802.0" x2="948.4" y2="815.2" stroke-width="3.0"/>
<line x1="983.4" y1="802.0" x2="983.4" y2="815.2" stroke-width="3.0"/>
<line x1="1010.6" y1="802.0" x2="1010.6" y2="815.2" stroke-width="3.0"/>
<line x1="1032.8" y1="802.0" x2="1032.8" y2="815.2" stroke-width="3.0"/>
<line x1="1051.5" y1="802.0" x2="1051.5" y2="815.2" stroke-width="3.0"/>
<line x1="1067.8" y1="802.0" x2="1067.8" y2="815.2" stroke-width="3.0"/>
<line x1="1082.1" y1="802.0" x2="1082.1" y2="815.2" stroke-width="3.0"/>
<line x1="1179.2" y1="802.0" x2="1179.2" y2="815.2" stroke-width="3.0"/>
<line x1="1228.5" y1="802.0" x2="1228.5" y2="815.2" stroke-width="3.0"/>
<line x1="1263.5" y1="802.0" x2="1263.5" y2="815.2" stroke-width="3.0"/>
<line x1="1290.7" y1="802.0" x2="1290.7" y2="815.2" stroke-width="3.0"/>
<line x1="254.6" y1="724.8" x2="231.4" y2="724.8" stroke-width="5.8"/>
<line x1="254.6" y1="570.4" x2="231.4" y2="570.4" stroke-width="5.8"/>
<line x1="254.6" y1="416.0" x2="231.4" y2="416.0" stroke-width="5.8"/>
<line x1="254.6" y1="261.6" x2="231.4" y2="261.6" stroke-width="5.8"/>
<line x1="254.6" y1="107.2" x2="231.4" y2="107.2" stroke-width="5.8"/>
<rect x="254.60" y="30.00" width="1036.08" height="772.00" stroke-width="6.0"/>
</g>
<text x="220.4" y="746.6" font-size="57.5" text-anchor="end">60</text>
<text x="220.4" y="592.2" font-size="57.5" text-anchor="end">80</text>
<text x="220.4" y="437.8" font-size="57.5" text-anchor="end">100</text>
<text x="220.4" y="283.4" font-size="57.5" text-anchor="end">120</text>
<text x="220.4" y="129.0" font-size="57.5" text-anchor="end">140</text>
<text x="183.8" y="880.2" font-size="58.0">10<tspan font-size="40.6" dy="-22.3" dx="0.6">−7</tspan></text>
<text x="463.9" y="880.2" font-size="58.0">10<tspan font-size="40.6" dy="-22.3" dx="0.6">−6</tspan></text>
<text x="744.0" y="880.2" font-size="58.0">10<tspan font-size="40.6" dy="-22.3" dx="0.6">−5</tspan></text>
<text x="1024.1" y="880.2" font-size="58.0">10<tspan font-size="40.6" dy="-22.3" dx="0.6">−4</tspan></text>
<text x="616.2" y="956.6" font-size="58.0">J (A cm<tspan font-size="40.6" dy="-22.0" dx="1.3">−2</tspan><tspan dy="22.0" dx="2.6">)</tspan></text>
<text transform="translate(74.4,784.3) rotate(-90)" font-size="58.0">Tafel slope (mV dec<tspan font-size="40.6" dy="-22.0" dx="3">−1</tspan><tspan dy="22.0" dx="2">)</tspan></text>
<line x1="1348.5" y1="107.6" x2="1474" y2="107.6" stroke="#000000" stroke-width="7.8"/>
<text x="1513.8" y="127.9" font-size="58.4">pH=5.0</text>
<line x1="1348.5" y1="192.9" x2="1474" y2="192.9" stroke="#4a00a8" stroke-width="9.3"/>
<text x="1513.8" y="213.2" font-size="58.4">pH=5.5</text>
<line x1="1348.5" y1="278.3" x2="1474" y2="278.3" stroke="#0078e0" stroke-width="9.3"/>
<text x="1513.8" y="298.6" font-size="58.4">pH=6.0</text>
<line x1="1348.5" y1="363.6" x2="1474" y2="363.6" stroke="#00a8a0" stroke-width="9.3"/>
<text x="1513.8" y="383.9" font-size="58.4">pH=6.5</text>
<line x1="1348.5" y1="449.0" x2="1474" y2="449.0" stroke="#00b814" stroke-width="9.3"/>
<text x="1513.8" y="469.3" font-size="58.4">pH=7.0</text>
<line x1="1348.5" y1="534.4" x2="1474" y2="534.4" stroke="#00f800" stroke-width="9.3"/>
<text x="1513.8" y="554.6" font-size="58.4">pH=7.5</text>
<line x1="1348.5" y1="619.7" x2="1474" y2="619.7" stroke="#ffca00" stroke-width="9.3"/>
<text x="1513.8" y="640.0" font-size="58.4">pH=8.0</text>
<line x1="1348.5" y1="705.0" x2="1474" y2="705.0" stroke="#ff0000" stroke-width="9.3"/>
<text x="1513.8" y="725.3" font-size="58.4">pH=8.5</text>
<line x1="1348.5" y1="790.4" x2="1474" y2="790.4" stroke="#c8c8c8" stroke-width="9.3"/>
<text x="1513.8" y="810.7" font-size="58.4">pH=9</text>
</g>
</svg></body></html>
